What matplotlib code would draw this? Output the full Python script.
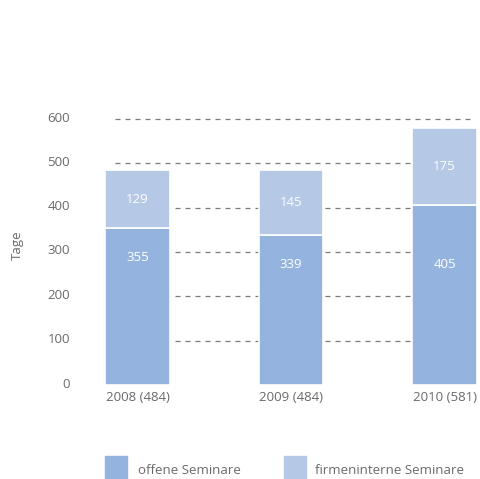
import numpy as np
import matplotlib
matplotlib.use("Agg")
import matplotlib.pyplot as plt
from matplotlib.patches import Rectangle

# Daten
jahre = ["2008 (484)", "2009 (484)", "2010 (581)"]
offene = [355, 339, 405]
firmenintern = [129, 145, 175]
yticks = [0, 100, 200, 300, 400, 500, 600]
label_unten_y = [287, 271, 271]  # Lage der Beschriftung im unteren Segment

c_offen = "#94b4df"
c_firma = "#b5c8e6"
grau = "#6a6a6a"

plt.rcParams['font.family'] = ['Open Sans', 'DejaVu Sans']

W, H = 480, 479
fig = plt.figure(figsize=(W / 100, H / 100), dpi=100)

# Achse in Pixelkoordinaten
left, right = 80, 480
bottom = H - 385
top600 = H - 119
ymax = 650
height = (top600 - bottom) * ymax / 600
ax = fig.add_axes([left / W, bottom / H, (right - left) / W, height / H])

x = np.arange(len(jahre))
breite = 0.423

for y in yticks[1:]:
    ax.axhline(y, xmin=0.0875, xmax=0.975, color="#7a7a7a", lw=0.9,
               ls=(0, (4, 4)), zorder=1)

ax.bar(x, offene, width=breite, color=c_offen, edgecolor="white", lw=1.2, zorder=2)
ax.bar(x, firmenintern, width=breite, bottom=offene, color=c_firma,
       edgecolor="white", lw=1.2, zorder=2)

for i in range(len(x)):
    ax.text(x[i], label_unten_y[i], str(offene[i]), ha="center", va="center",
            color="white", fontsize=9.5, zorder=3)
    ax.text(x[i], offene[i] + firmenintern[i] / 2, str(firmenintern[i]),
            ha="center", va="center", color="white", fontsize=9.5, zorder=3)
    ax.text(x[i], -28, jahre[i], ha="center", va="center", color=grau,
            fontsize=9.5)

for y in yticks:
    ax.annotate(str(y), xy=(0, y), xycoords=("axes fraction", "data"),
                xytext=(-10, 1), textcoords="offset pixels",
                ha="right", va="center", color=grau, fontsize=9.5)

fig.text(17 / W, 1 - 245 / H, "Tage", rotation=90, ha="center", va="center",
         color=grau, fontsize=9.5)

ax.set_xlim(-0.3746, 2.231)
ax.set_ylim(0, ymax)
ax.set_xticks([])
ax.set_yticks([])
for s in ax.spines.values():
    s.set_visible(False)
ax.patch.set_alpha(0)

# Legende
for lx, tx, col, txt in [(105, 138, c_offen, "offene Seminare"),
                         (284, 315, c_firma, "firmeninterne Seminare")]:
    fig.patches.append(Rectangle((lx / W, 1 - 479 / H), 22 / W, 23 / H,
                                 transform=fig.transFigure, color=col))
    fig.text(tx / W, 1 - 470 / H, txt, ha="left", va="center", color=grau,
             fontsize=9.5)

fig.savefig("out.png", dpi=100)
